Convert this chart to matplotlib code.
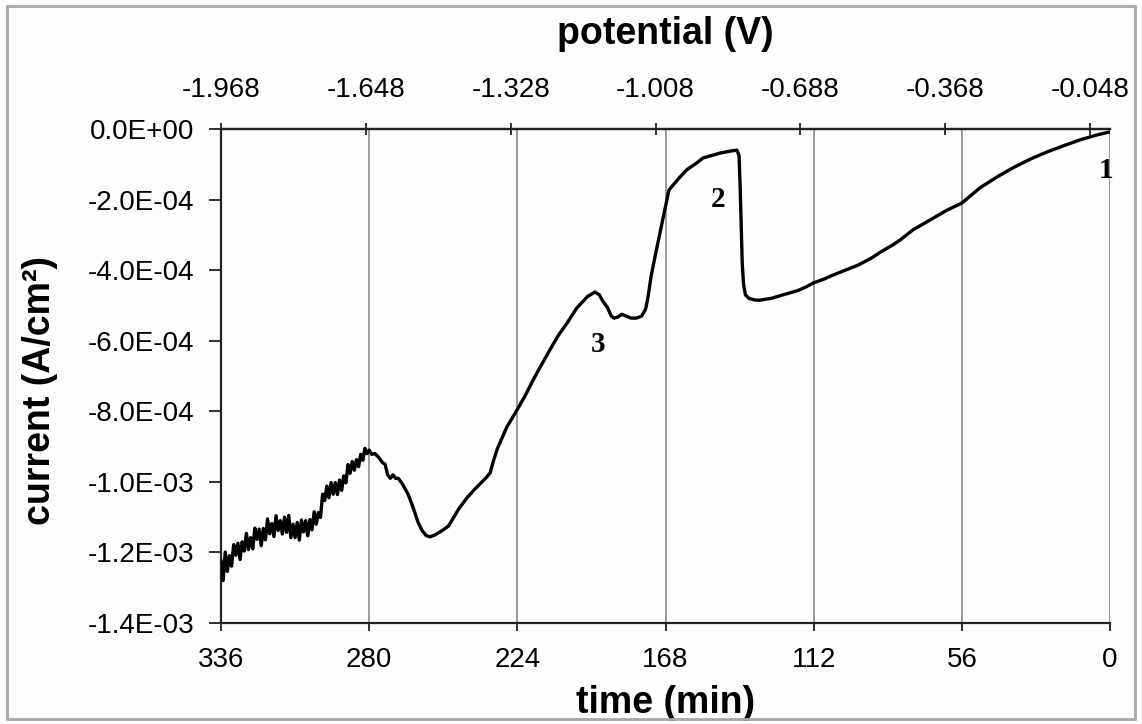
import numpy as np
import matplotlib.pyplot as plt
from matplotlib.patches import Rectangle
from matplotlib.ticker import FuncFormatter

plt.rcParams['font.family'] = ['Liberation Sans', 'DejaVu Sans']

# time (min) and current (x1e-4 A/cm2)
time_min = [
    336.0, 335.2, 334.4, 333.6, 332.8, 332.0, 331.2, 330.4, 329.6, 328.8,
    328.0, 327.2, 326.4, 325.6, 324.8, 324.0, 323.2, 322.4, 321.6, 320.8,
    320.0, 319.2, 318.4, 317.6, 316.8, 316.0, 315.2, 314.4, 313.6, 312.8,
    312.0, 311.2, 310.4, 309.6, 308.8, 308.0, 307.2, 306.4, 305.6, 304.8,
    304.0, 303.2, 302.4, 301.6, 300.8, 300.0, 299.2, 298.4, 297.6, 296.8,
    296.0, 295.2, 294.4, 293.6, 292.8, 292.0, 291.2, 290.4, 289.6, 288.8,
    288.0, 287.2, 286.4, 285.6, 284.8, 284.0, 283.2, 282.4, 281.6, 280.8,
    280.0, 279.0, 277.8, 276.5, 275.0, 274.0, 273.0, 272.0, 271.0, 270.0,
    269.0, 267.5, 265.3, 264.0, 262.7, 261.5, 260.0, 258.5, 257.0, 255.0,
    252.0, 250.0, 248.0, 246.0, 243.0, 240.0, 238.0, 236.0, 234.3, 233.0,
    231.5, 230.6, 228.0, 224.1, 221.0, 218.0, 215.0, 211.7, 208.5, 205.2,
    201.5, 197.5, 194.7, 193.0, 191.5, 190.0, 188.5, 187.5, 186.0, 184.5,
    183.0, 181.0, 179.0, 177.0, 175.5, 174.6, 173.5, 172.0, 169.3, 166.7,
    163.0, 160.0, 156.0, 153.8, 150.0, 147.2, 143.0, 141.0, 140.2, 139.8,
    139.4, 139.0, 138.5, 137.8, 136.5, 134.0, 132.3, 128.0, 123.6, 118.0,
    115.0, 112.0, 108.0, 104.7, 100.0, 95.0, 90.0, 87.0, 82.0, 79.4,
    74.5, 69.0, 61.6, 56.0, 49.2, 42.5, 36.7, 30.0, 23.8, 17.0,
    11.4, 5.0, 0.0,
]
current_e4 = [
    -12.25, -12.8, -11.99, -12.54, -12.09, -12.39, -11.78, -12.08, -11.74, -12.2,
    -11.7, -11.96, -11.46, -11.92, -11.58, -11.9, -11.31, -11.63, -11.34, -11.81,
    -11.32, -11.64, -11.05, -11.47, -11.18, -11.55, -10.96, -11.38, -11.1, -11.48,
    -11.0, -11.43, -10.95, -11.58, -11.2, -11.58, -11.15, -11.65, -11.08, -11.42,
    -11.1, -11.53, -11.07, -11.36, -10.85, -11.2, -10.87, -11.01, -10.35, -10.53,
    -10.12, -10.45, -10.02, -10.35, -10.02, -10.36, -9.95, -10.24, -9.83, -10.03,
    -9.51, -9.76, -9.42, -9.67, -9.37, -9.57, -9.22, -9.39, -9.05, -9.2,
    -9.1, -9.22, -9.2, -9.3, -9.45, -9.5, -9.8, -9.9, -9.8, -9.9,
    -9.9, -10.05, -10.35, -10.6, -10.88, -11.15, -11.38, -11.52, -11.56, -11.5,
    -11.36, -11.25, -11.0, -10.75, -10.45, -10.2, -10.05, -9.9, -9.75, -9.4,
    -9.05, -8.9, -8.45, -7.96, -7.55, -7.11, -6.7, -6.26, -5.85, -5.5,
    -5.07, -4.75, -4.62, -4.7, -4.9, -5.05, -5.3, -5.36, -5.33, -5.25,
    -5.3, -5.36, -5.36, -5.3, -5.1, -4.76, -4.2, -3.63, -2.66, -1.73,
    -1.4, -1.16, -0.95, -0.82, -0.74, -0.68, -0.62, -0.6, -0.75, -1.6,
    -2.66, -3.8, -4.4, -4.7, -4.8, -4.85, -4.85, -4.8, -4.7, -4.58,
    -4.48, -4.36, -4.25, -4.14, -4.0, -3.85, -3.65, -3.5, -3.28, -3.15,
    -2.86, -2.62, -2.3, -2.1, -1.67, -1.35, -1.1, -0.85, -0.65, -0.46,
    -0.31, -0.17, -0.08,
]

time_ticks = [336, 280, 224, 168, 112, 56, 0]
pot_ticks = [-1.968, -1.648, -1.328, -1.008, -0.688, -0.368, -0.048]
y_ticks = [0.0, -2e-4, -4e-4, -6e-4, -8e-4, -1.0e-3, -1.2e-3, -1.4e-3]

labels = [("1", 1.6, -1.18e-4), ("2", 148.3, -2.0e-4), ("3", 193.4, -6.1e-4)]

current = np.array(current_e4) * 1e-4

fig = plt.figure(figsize=(11.42, 7.24), dpi=100, facecolor='#fdfdfd')
fig.patches.append(Rectangle((0.006, 0.007), 0.988, 0.985, transform=fig.transFigure,
                             fill=False, edgecolor='#a8a8a8', linewidth=2))
ax = fig.add_axes([221 / 1142, 1 - 623 / 724, 889 / 1142, 494 / 724])
ax.set_facecolor('#fdfdfd')

for t in time_ticks:
    ax.axvline(t, color='#808080', linewidth=1.1, zorder=1)
ax.plot(time_min, current, color='black', linewidth=2.4, zorder=3)

ax.set_xlim(336, 0)
ax.set_ylim(-1.4e-3, 0)
ax.set_xticks(time_ticks)
ax.set_xticklabels([str(t) for t in time_ticks])
ax.set_yticks(y_ticks)
ax.yaxis.set_major_formatter(FuncFormatter(lambda v, p: f"{v:.1E}"))
ax.tick_params(axis='x', direction='out', length=6, width=1.3, labelsize=20, pad=11, colors='#222222', labelcolor='black')
ax.tick_params(axis='y', direction='out', length=9, width=1.3, labelsize=20, pad=10, colors='#222222', labelcolor='black')
for s in ['left', 'bottom', 'top']:
    ax.spines[s].set_linewidth(1.6)
    ax.spines[s].set_color('#222222')
ax.spines['right'].set_visible(False)

ax.set_xlabel('time (min)', fontsize=27, fontweight='bold')
ax.xaxis.set_label_coords(0.5, -0.125)
ax.set_ylabel('current (A/cm²)', fontsize=27, fontweight='bold')
ax.yaxis.set_label_coords(-0.183, 0.47)

ax2 = ax.twiny()
ax2.set_xlim(-1.968, -0.004)
ax2.set_xticks(pot_ticks)
ax2.set_xticklabels([f"{p:.3f}" for p in pot_ticks])
ax2.tick_params(axis='x', direction='inout', length=9, width=1.3, labelsize=20, pad=14, colors='#222222', labelcolor='black')
for s in ['left', 'bottom', 'right']:
    ax2.spines[s].set_visible(False)
ax2.spines['top'].set_linewidth(1.6)
ax2.spines['top'].set_color('#222222')
ax2.set_xlabel('potential (V)', fontsize=27, fontweight='bold')
ax2.xaxis.set_label_coords(0.5, 1.172)

for txt, t, c in labels:
    ax.text(t, c, txt, fontsize=21, fontweight='bold', family=['Liberation Serif', 'DejaVu Serif'],
            ha='center', va='center', zorder=4)

fig.savefig('out.png', dpi=100, facecolor=fig.get_facecolor())
